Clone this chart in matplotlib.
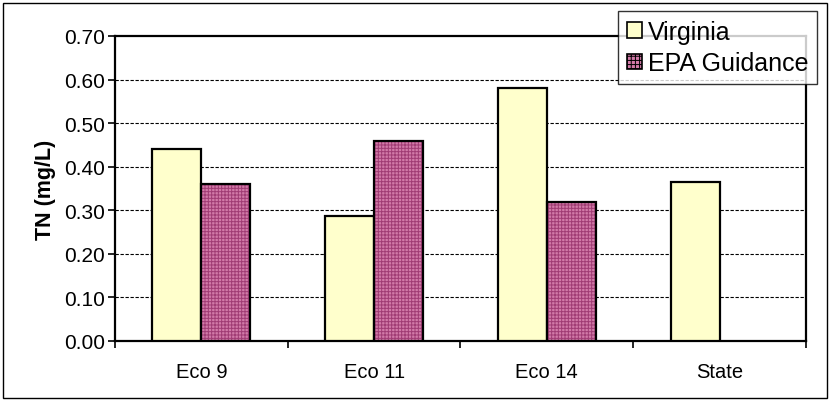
import numpy as np
import matplotlib
matplotlib.use("Agg")
import matplotlib.pyplot as plt
from matplotlib.patches import Patch, Rectangle

categories = ["Eco 9", "Eco 11", "Eco 14", "State"]
virginia = [0.44, 0.287, 0.58, 0.365]
epa = [0.36, 0.46, 0.32, np.nan]
yticks = [0.0, 0.1, 0.2, 0.3, 0.4, 0.5, 0.6, 0.7]

plt.rcParams["font.family"] = ["Liberation Sans", "DejaVu Sans"]
plt.rcParams["hatch.linewidth"] = 0.7

YELLOW = "#ffffcc"
PINK = "#d27aa8"
HATCH = "#a03c74"

fig = plt.figure(figsize=(8.3, 4.02), dpi=100)
ax = fig.add_axes([0.1386, 0.1493, 0.971 - 0.1386, 0.908 - 0.1493])

# outer frame round the whole chart
fig.patches.append(Rectangle((0.004, 0.008), 0.992, 0.982, transform=fig.transFigure,
                             fill=False, edgecolor="black", linewidth=1.0))

x = np.arange(len(categories))
w = 0.284
ax.bar(x - w / 2, virginia, w, color=YELLOW, edgecolor="black", linewidth=1.6, zorder=3)
ax.bar(x + w / 2, epa, w, color=PINK, edgecolor="none", zorder=3)
ax.bar(x + w / 2, epa, w, color="none", edgecolor=HATCH, hatch="+++++", linewidth=0, zorder=4)
ax.bar(x + w / 2, epa, w, color="none", edgecolor="black", linewidth=1.6, zorder=5)

ax.set_xlim(-0.5, len(categories) - 0.5)
ax.set_ylim(0, 0.7)
ax.set_yticks(yticks)
ax.set_yticklabels([f"{v:.2f}" for v in yticks], fontsize=15)
ax.set_xticks(x)
ax.set_xticklabels(categories, fontsize=14.5)
ax.set_xticks(np.arange(len(categories) + 1) - 0.5, minor=True)
ax.tick_params(axis="x", which="major", length=0, pad=15)
ax.tick_params(axis="x", which="minor", length=5, width=1.2, direction="out")
ax.tick_params(axis="y", length=5, width=1.2, direction="out", pad=2)

for v in yticks[1:-1]:
    ax.axhline(v, color="black", linestyle=(0, (3, 1.5)), linewidth=0.8, zorder=1)

for s in ax.spines.values():
    s.set_linewidth(1.6)

ax.set_ylabel("TN (mg/L)", fontsize=15.5, fontweight="bold", labelpad=6)

handles = [
    Patch(facecolor=YELLOW, edgecolor="black", linewidth=1.2),
    Patch(facecolor=PINK, edgecolor="black", hatch="++++", linewidth=1.2),
]
leg = fig.legend(handles, ["Virginia", "EPA Guidance"], loc="upper left",
                 bbox_to_anchor=(618 / 830, 1 - 12 / 402), fontsize=18, frameon=True,
                 fancybox=False, edgecolor="black", handlelength=0.6, handleheight=0.6,
                 handletextpad=0.25, borderpad=0.35, labelspacing=0.3, borderaxespad=0)
leg.get_frame().set_linewidth(1.0)

fig.savefig("out.png", dpi=100)
